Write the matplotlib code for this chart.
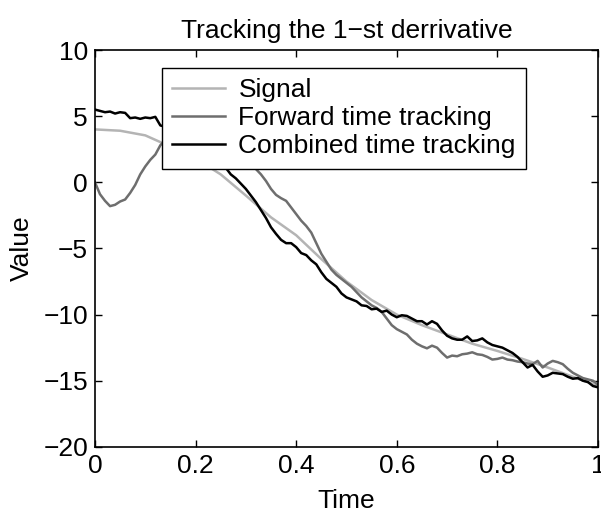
import numpy as np
import matplotlib
matplotlib.use("Agg")
import matplotlib.pyplot as plt

plt.rcParams['font.family'] = ['Liberation Sans', 'DejaVu Sans']

# time grid for the tracking curves (step 0.01)
t = np.linspace(0, 1, 101)

# smooth reference signal, sampled every 0.05
t_sig = np.linspace(0, 1, 21)
signal = [4.0, 3.9, 3.55, 2.7, 1.8, 0.6, -1.0, -2.65, -4.0, -5.8, -7.5,
          -8.9, -10.0, -10.8, -11.5, -12.2, -12.75, -13.35, -14.0, -14.7, -15.4]

forward = [0.0, -0.9, -1.4, -1.8, -1.7, -1.45, -1.3, -0.8, -0.2, 0.6,
           1.2, 1.7, 2.1, 2.8, 3.2, 3.5, 3.8, 4.0, 4.2, 4.3,
           4.4, 4.35, 4.2, 4.0, 3.8, 3.5, 3.2, 2.9, 2.6, 2.2,
           1.8, 1.4, 1.0, 0.6, 0.1, -0.5, -0.95, -1.2, -1.4, -1.9,
           -2.4, -2.9, -3.3, -3.8, -4.6, -5.4, -6.0, -6.6, -7.0, -7.3,
           -7.6, -7.9, -8.3, -8.7, -9.0, -9.3, -9.5, -9.8, -10.3, -10.8,
           -11.1, -11.3, -11.5, -11.9, -12.2, -12.4, -12.55, -12.35, -12.5, -12.9,
           -13.25, -13.1, -13.15, -13.0, -12.95, -12.85, -13.0, -13.05, -13.2, -13.4,
           -13.35, -13.25, -13.4, -13.45, -13.55, -13.6, -13.7, -13.75, -13.5, -14.0,
           -13.7, -13.5, -13.6, -13.75, -14.1, -14.4, -14.6, -14.8, -14.9, -15.0,
           -15.3]

combined = [5.5, 5.4, 5.3, 5.35, 5.2, 5.3, 5.25, 4.85, 4.9, 4.8,
            4.9, 4.85, 4.95, 4.3, 4.2, 4.0, 3.8, 3.6, 3.4, 3.1,
            2.9, 2.6, 2.3, 2.0, 1.7, 1.4, 1.1, 0.6, 0.3, -0.1,
            -0.5, -1.0, -1.5, -2.1, -2.7, -3.4, -3.9, -4.35, -4.6, -4.6,
            -4.9, -5.35, -5.5, -5.9, -6.2, -6.8, -7.3, -7.6, -7.9, -8.4,
            -8.7, -8.85, -9.0, -9.3, -9.35, -9.6, -9.55, -9.8, -9.7, -10.0,
            -10.2, -10.05, -10.1, -10.3, -10.5, -10.5, -10.75, -10.5, -10.7, -11.2,
            -11.6, -11.8, -11.9, -11.9, -11.65, -12.0, -11.95, -11.8, -12.1, -12.3,
            -12.4, -12.5, -12.7, -12.9, -13.2, -13.6, -14.0, -13.8, -14.3, -14.7,
            -14.6, -14.4, -14.45, -14.5, -14.7, -14.85, -14.8, -15.0, -15.1, -15.4,
            -15.5]

fig = plt.figure(figsize=(6.01, 5.16), dpi=100)
ax = fig.add_axes([0.158, 0.134, 0.837, 0.769])

ax.plot(t_sig, signal, color='#b4b4b4', lw=1.8, label='Signal')
ax.plot(t, forward, color='#6e6e6e', lw=1.8, label='Forward time tracking')
ax.plot(t, combined, color='black', lw=1.8, label='Combined time tracking')

ax.set_xlim(0, 1)
ax.set_ylim(-20, 10)
ax.set_xticks([0, 0.2, 0.4, 0.6, 0.8, 1])
ax.set_xticklabels(['0', '0.2', '0.4', '0.6', '0.8', '1'])
ax.set_yticks([-20, -15, -10, -5, 0, 5, 10])
ax.set_yticklabels(['\u221220', '\u221215', '\u221210', '\u22125', '0', '5', '10'])
ax.tick_params(direction='in', top=True, right=True, length=5, width=1,
               labelsize=19, pad=5)
for s in ax.spines.values():
    s.set_linewidth(1.2)

ax.set_title('Tracking the 1\u2212st derrivative', fontsize=19, pad=9)
ax.set_xlabel('Time', fontsize=19, labelpad=8)
ax.set_ylabel('Value', fontsize=19, labelpad=7)

leg = ax.legend(loc='upper left', bbox_to_anchor=(0.133, 0.955), fontsize=19,
                handlelength=2.0, handletextpad=0.5, labelspacing=0.15,
                borderpad=0.4, fancybox=False, framealpha=1, borderaxespad=0)
leg.get_frame().set_edgecolor('black')
leg.get_frame().set_linewidth(1.0)

fig.savefig('out.png', dpi=100)
